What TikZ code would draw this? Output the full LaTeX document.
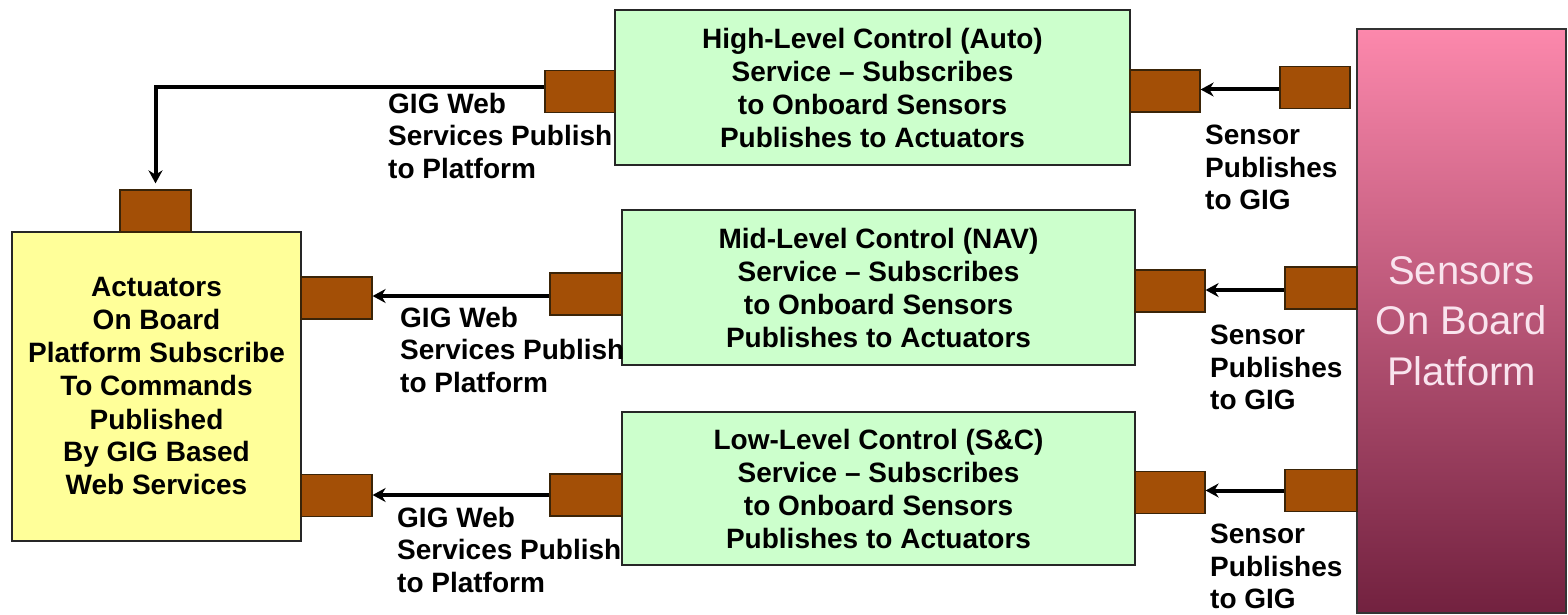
\documentclass[tikz,border=0pt]{standalone}
\usepackage{fontspec}
\setmainfont{Liberation Sans}
\usetikzlibrary{arrows.meta,shadings}
\definecolor{gfill}{HTML}{CCFFCC}
\definecolor{yfill}{HTML}{FFFF99}
\definecolor{pfill}{HTML}{A34F06}
\definecolor{pdraw}{HTML}{3A2408}
\definecolor{pinktop}{HTML}{FC88AC}
\definecolor{pinkmid}{HTML}{C9537E}
\definecolor{pinkbot}{HTML}{72213F}
\definecolor{pinktxt}{HTML}{F9E4EE}
\begin{document}
\begin{tikzpicture}[x=1pt,y=-1pt,
  box/.style={draw=black!85, line width=1.5pt, align=center, inner sep=0pt,
    font=\fontsize{28}{33}\selectfont\bfseries},
  greenbox/.style={box, fill=gfill},
  port/.style={draw=pdraw, line width=1.2pt, fill=pfill, inner sep=0pt,
    minimum width=71pt, minimum height=42pt},
  lbl/.style={anchor=north west, align=left, inner sep=0pt,
    font=\fontsize{28}{32.5}\selectfont\bfseries},
  arr/.style={line width=4pt, -{Stealth[length=13pt,width=14pt]}}
]
\useasboundingbox (0,0) rectangle (1568,615);
\fill[white] (0,0) rectangle (1568,615);

% main boxes
\node[greenbox, minimum width=515pt, minimum height=155pt] (hi) at (872.5,87.5)
  {High-Level Control (Auto)\\Service -- Subscribes\\to Onboard Sensors\\Publishes to Actuators};
\node[greenbox, minimum width=513pt, minimum height=155pt] (mid) at (878.5,287.5)
  {Mid-Level Control (NAV)\\Service -- Subscribes\\to Onboard Sensors\\Publishes to Actuators};
\node[greenbox, minimum width=513pt, minimum height=153pt] (low) at (878.5,488.5)
  {Low-Level Control (S\&C)\\Service -- Subscribes\\to Onboard Sensors\\Publishes to Actuators};
\node[box, fill=yfill, minimum width=289pt, minimum height=309pt] (act) at (156.5,386.5)
  {Actuators\\On Board\\Platform Subscribe\\To Commands\\Published\\By GIG Based\\Web Services};
\node[draw=black!80, line width=1.5pt, top color=pinktop, middle color=pinkmid, bottom color=pinkbot,
  minimum width=209pt, minimum height=584pt, inner sep=0pt, align=center,
  text=pinktxt, font=\fontsize{40}{50.5}\selectfont] (sens) at (1461.5,321)
  {Sensors\\On Board\\Platform};

% ports
\node[port] (pA) at (155.5,211) {};
\node[port] (pB) at (336.5,298) {};
\node[port] (pC) at (336.5,495.5) {};
\node[port, minimum width=70pt] (pHL) at (580,91.5) {};
\node[port, minimum width=70pt] (pHR) at (1165,91) {};
\node[port, minimum width=70pt] (sH) at (1315,87.5) {};
\node[port, minimum width=72pt] (pML) at (586,294) {};
\node[port, minimum width=70pt] (pMR) at (1170,291) {};
\node[port, minimum width=72pt] (sM) at (1321,288) {};
\node[port, minimum width=72pt] (pLL) at (586,495) {};
\node[port, minimum width=70pt] (pLR) at (1170,492.5) {};
\node[port, minimum width=72pt] (sL) at (1321,490.5) {};

% connectors
\draw[arr, shorten >=6pt] ([yshift=4pt]pHL.west) -| (pA.north);
\draw[arr] ([yshift=-2pt]pML.west) -- ([yshift=-2pt]pML.west -| pB.east);
\draw[arr] (pLL.west) -- (pLL.west -| pC.east);
\draw[arr] ([yshift=-2pt]sH.west) -- ([yshift=-2pt]sH.west -| pHR.east);
\draw[arr] ([yshift=-2pt]sM.west) -- ([yshift=-2pt]sM.west -| pMR.east);
\draw[arr] (sL.west) -- (sL.west -| pLR.east);

% labels
\node[lbl] (gT) at (388,93) {GIG Web\\Services Publish\\to Platform};
\node[lbl] (gM) at (400,307) {GIG Web\\Services Publish\\to Platform};
\node[lbl] (gL) at (397,507) {GIG Web\\Services Publish\\to Platform};
\node[lbl] (sT) at (1205,125) {Sensor\\Publishes\\to GIG};
\node[lbl] (sMl) at (1210,325) {Sensor\\Publishes\\to GIG};
\node[lbl] (sLl) at (1210,524) {Sensor\\Publishes\\to GIG};
\end{tikzpicture}
\end{document}
